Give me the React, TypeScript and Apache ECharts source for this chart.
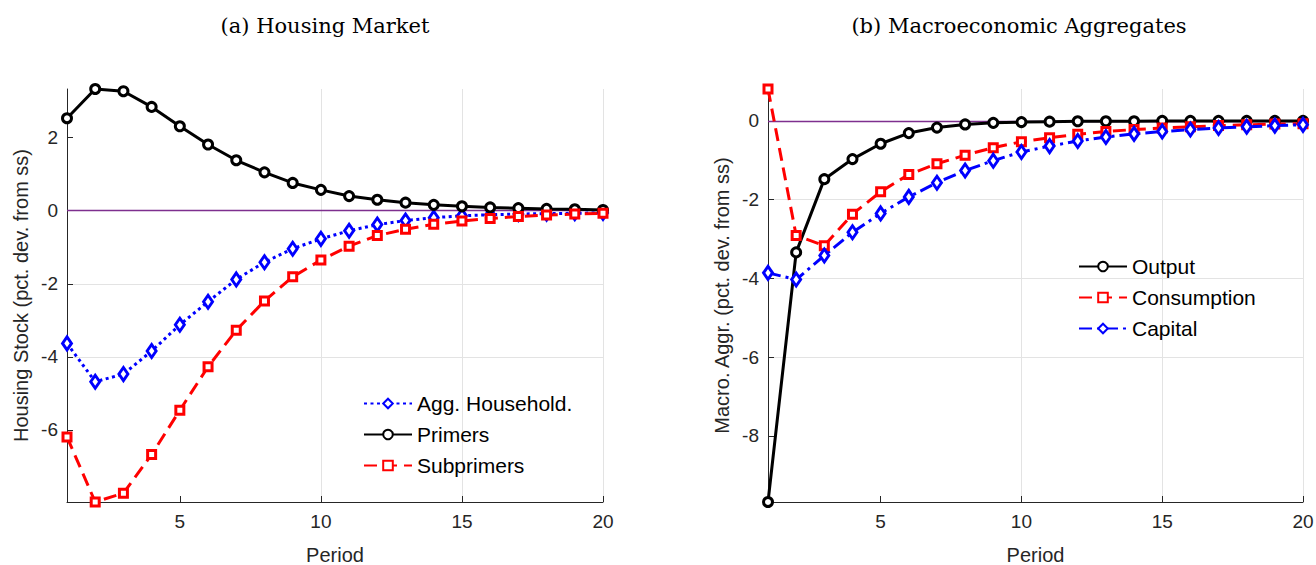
import React, { useEffect, useRef } from "react";
import * as echarts from "echarts";

const periods = [1, 2, 3, 4, 5, 6, 7, 8, 9, 10, 11, 12, 13, 14, 15, 16, 17, 18, 19, 20];

const aggHousehold = [-3.63, -4.68, -4.47, -3.84, -3.12, -2.49, -1.88, -1.41, -1.04, -0.77, -0.55, -0.38, -0.27, -0.19, -0.14, -0.11, -0.09, -0.08, -0.07, -0.06];
const primers = [2.53, 3.33, 3.27, 2.84, 2.31, 1.81, 1.38, 1.05, 0.76, 0.57, 0.40, 0.30, 0.22, 0.16, 0.12, 0.09, 0.07, 0.05, 0.04, 0.02];
const subprimers = [-6.19, -7.97, -7.73, -6.67, -5.46, -4.27, -3.27, -2.47, -1.81, -1.35, -0.97, -0.68, -0.51, -0.37, -0.28, -0.21, -0.16, -0.12, -0.09, -0.07];

const output = [-9.68, -3.34, -1.48, -0.97, -0.58, -0.31, -0.17, -0.09, -0.05, -0.03, -0.02, -0.01, -0.01, -0.01, 0, 0, 0, 0, 0, 0];
const consumption = [0.81, -2.91, -3.17, -2.37, -1.8, -1.36, -1.09, -0.87, -0.68, -0.53, -0.43, -0.34, -0.27, -0.22, -0.18, -0.15, -0.12, -0.1, -0.08, -0.07];
const capital = [-3.86, -4.03, -3.42, -2.83, -2.35, -1.93, -1.57, -1.26, -1.01, -0.79, -0.64, -0.51, -0.41, -0.33, -0.27, -0.22, -0.18, -0.15, -0.12, -0.1];

const xTicks = [5, 10, 15, 20];
const leftYTicks = [-6, -4, -2, 0, 2];
const rightYTicks = [-8, -6, -4, -2, 0];

const titles = ["(a) Housing Market", "(b) Macroeconomic Aggregates"];
const yNames = ["Housing Stock (pct. dev. from ss)", "Macro. Aggr. (pct. dev. from ss)"];

const SANS = "'Liberation Sans', Arial, Helvetica, sans-serif";
const TXT = "#262626";
const GRID = "#e3e3e3";
const BLUE = "#0000ff";
const RED = "#ff0000";
const BLACK = "#000000";
const PURPLE = "#7e2f8e";

function pairs(vals: number[]) {
  return periods.map((p, i) => [p, vals[i]]);
}

function mkSeries(
  name: string,
  vals: number[],
  color: string,
  dash: any,
  symbol: string,
  size: any,
  idx: number,
  zeroLine: boolean
) {
  const s: any = {
    name,
    type: "line",
    xAxisIndex: idx,
    yAxisIndex: idx,
    data: pairs(vals),
    symbol,
    symbolSize: size,
    showSymbol: true,
    showAllSymbol: true,
    clip: false,
    lineStyle: { color, width: 3, type: dash },
    itemStyle: { color: "#ffffff", borderColor: color, borderWidth: 3 },
    emphasis: { disabled: true },
  };
  if (zeroLine) {
    s.markLine = {
      silent: true,
      symbol: "none",
      label: { show: false },
      lineStyle: { color: PURPLE, width: 1.3, type: "solid" },
      data: [{ yAxis: 0 }],
      z: 1,
    };
  }
  return s;
}

function xAxis(idx: number) {
  return {
    type: "value",
    gridIndex: idx,
    min: 1,
    max: 20,
    splitNumber: 4,
    name: "Period",
    nameLocation: "middle",
    nameGap: 43,
    nameTextStyle: { fontFamily: SANS, fontSize: 20, color: TXT },
    axisLine: { show: true, onZero: false, lineStyle: { color: TXT, width: 1 } },
    axisTick: { show: true, inside: true, length: 6, lineStyle: { color: TXT }, customValues: xTicks },
    axisLabel: {
      fontFamily: SANS,
      fontSize: 19,
      color: TXT,
      margin: 10,
      customValues: xTicks,
      formatter: (v: number) => (xTicks.indexOf(v) >= 0 ? String(v) : ""),
    },
    splitLine: { show: true, showMinLine: false, showMaxLine: true, lineStyle: { color: GRID, width: 1 } },
  };
}

function yAxis(idx: number, vals: number[], ticks: number[]) {
  return {
    type: "value",
    gridIndex: idx,
    min: Math.min(...vals),
    max: Math.max(...vals),
    splitNumber: 5,
    name: yNames[idx],
    nameLocation: "middle",
    nameGap: 36,
    nameTextStyle: { fontFamily: SANS, fontSize: 20, color: TXT },
    axisLine: { show: true, onZero: false, lineStyle: { color: TXT, width: 1 } },
    axisTick: { show: true, inside: true, length: 6, lineStyle: { color: TXT }, customValues: ticks },
    axisLabel: {
      fontFamily: SANS,
      fontSize: 19,
      color: TXT,
      margin: 9,
      customValues: ticks,
      formatter: (v: number) => (ticks.indexOf(Math.round(v * 1000) / 1000) >= 0 ? String(v) : ""),
    },
    splitLine: { show: true, showMinLine: false, showMaxLine: false, lineStyle: { color: GRID, width: 1 } },
  };
}

export default function App() {
  const ref = useRef<HTMLDivElement>(null);
  useEffect(() => {
    if (!ref.current) return;
    const chart = echarts.init(ref.current, undefined, { renderer: "svg" });
    const leftAll = [...aggHousehold, ...primers, ...subprimers];
    const rightAll = [...output, ...consumption, ...capital];
    const legendText = { fontFamily: SANS, fontSize: 21, color: BLACK };
    const titleStyle = { fontFamily: "'DejaVu Serif', serif", fontSize: 21, fontWeight: "normal", color: BLACK };
    chart.setOption({
      animation: false,
      backgroundColor: "#ffffff",
      title: [
        { text: titles[0], left: 320, top: 10, textAlign: "center", textStyle: titleStyle },
        { text: titles[1], left: 1014, top: 10, textAlign: "center", textStyle: titleStyle },
      ],
      grid: [
        { left: 67, top: 89, width: 536, height: 413, outerBoundsMode: "none", containLabel: false },
        { left: 768, top: 89, width: 535, height: 413, outerBoundsMode: "none", containLabel: false },
      ],
      xAxis: [xAxis(0), xAxis(1)],
      yAxis: [yAxis(0, leftAll, leftYTicks), yAxis(1, rightAll, rightYTicks)],
      legend: [
        {
          data: ["Agg. Household.", "Primers", "Subprimers"],
          orient: "vertical",
          left: 358,
          top: 388,
          itemWidth: 48,
          itemHeight: 12,
          itemGap: 10,
          textStyle: legendText,
          selectedMode: false,
        },
        {
          data: ["Output", "Consumption", "Capital"],
          orient: "vertical",
          left: 1073,
          top: 251,
          itemWidth: 48,
          itemHeight: 12,
          itemGap: 10,
          textStyle: legendText,
          selectedMode: false,
        },
      ],
      series: [
        mkSeries("Agg. Household.", aggHousehold, BLUE, [3, 3.5], "diamond", [9, 13], 0, true),
        mkSeries("Primers", primers, BLACK, "solid", "circle", 9, 0, false),
        mkSeries("Subprimers", subprimers, RED, [13, 7], "rect", 8, 0, false),
        mkSeries("Output", output, BLACK, "solid", "circle", 9, 1, true),
        mkSeries("Consumption", consumption, RED, [13, 7], "rect", 8, 1, false),
        mkSeries("Capital", capital, BLUE, [13, 5, 3, 5], "diamond", [9, 13], 1, false),
      ],
    });
    return () => chart.dispose();
  }, []);
  return (
    <div
      ref={ref}
      style={{ position: "fixed", left: 0, top: 0, width: 1316, height: 565, background: "#fff" }}
    />
  );
}
